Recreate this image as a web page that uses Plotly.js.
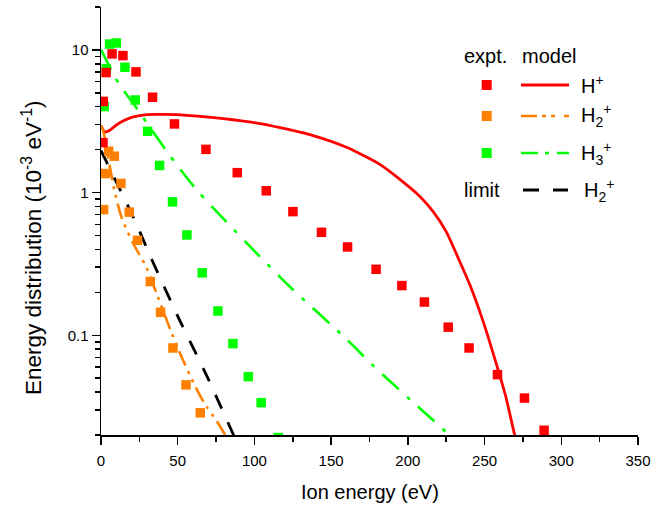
<!DOCTYPE html>
<html>
<head>
<meta charset="utf-8">
<script src="https://cdn.plot.ly/plotly-3.0.1.min.js"></script>
<style>
  html, body { margin: 0; padding: 0; background: #fff; }
  #chart { width: 672px; height: 505px; }
</style>
</head>
<body>
<div id="chart"></div>
<script>
// Measured ion energy distributions (expt.) for H+, H2+, H3+
const hPlusE   = [1.3, 1.5, 3.3, 7.2, 14.3, 22.8, 33.6, 47.9, 68.4, 88.8, 107.7, 125.1, 143.7, 160.7, 179.3, 196.1, 210.8, 226.3, 239.9, 258.4, 276.0, 288.8];
const hPlusF   = [2.24, 4.36, 6.94, 9.38, 9.13, 7.02, 4.66, 3.03, 2.01, 1.38, 1.03, 0.736, 0.527, 0.416, 0.290, 0.223, 0.171, 0.114, 0.0815, 0.0530, 0.0363, 0.0216];

const h2PlusE  = [1.7, 2.8, 5.0, 8.7, 13.0, 18.4, 23.8, 32.1, 38.8, 46.9, 55.4, 64.7];
const h2PlusF  = [0.760, 1.36, 1.95, 1.80, 1.16, 0.730, 0.463, 0.238, 0.145, 0.0815, 0.0449, 0.0286];

const h3PlusE  = [2.1, 3.5, 5.6, 10.0, 15.6, 22.3, 30.4, 38.2, 46.6, 56.0, 66.0, 76.2, 86.0, 96.0, 104.4, 115.5];
const h3PlusF  = [4.01, 7.40, 11.0, 11.2, 7.56, 4.46, 2.69, 1.55, 0.861, 0.505, 0.274, 0.148, 0.0874, 0.0513, 0.0337, 0.0192];

// Model curves
const modelHE   = [0, 2.5, 6, 10.4, 15, 21, 30, 41, 58.2, 79.7, 101.8, 116.8, 138.3, 160.4, 182, 195, 208, 216.5, 225, 232.7, 240.6, 249.1, 258.2, 264, 269.6, 271];
const modelHF   = [2.95, 2.66, 2.75, 3.0, 3.2, 3.39, 3.52, 3.53, 3.47, 3.30, 3.07, 2.85, 2.51, 2.07, 1.57, 1.233, 0.937, 0.736, 0.533, 0.350, 0.223, 0.1247, 0.0603, 0.0366, 0.0201, 0.0183];

const modelH2E  = [0, 1.5, 3, 6, 9.3, 13.5, 21, 29.3, 36.9, 41.2, 45.6, 53.8, 62.5, 68.6, 75.6, 81.0, 81.6];
const modelH2F  = [2.95, 2.7, 2.24, 1.47, 0.97, 0.667, 0.44, 0.304, 0.1875, 0.142, 0.1066, 0.0657, 0.0416, 0.0318, 0.0249, 0.0200, 0.0195];

const modelH3E  = [0, 9.3, 14.7, 21.2, 26.7, 32.1, 43.6, 57.5, 63.6, 79.9, 103.8, 123.3, 160.3, 177.4, 202.6, 225.4, 226];
const modelH3F  = [10.05, 6.40, 5.2, 4.2, 3.45, 2.84, 1.90, 1.21, 1.008, 0.654, 0.354, 0.218, 0.0933, 0.0613, 0.0345, 0.0205, 0.0195];

// Limit curve for H2+
const limitE    = [0, 22.3, 32.1, 50.6, 69.1, 87.5];
const limitF    = [1.97, 0.63, 0.358, 0.132, 0.0516, 0.0188];

// Axis ticks
const xTicks      = [0, 50, 100, 150, 200, 250, 300, 350];
const xMinorTicks = [25, 75, 125, 175, 225, 275, 325];
const yTicks      = [0.1, 1, 10];
const yTickText   = ['0.1', '1', '10'];
const yMinorTicks = [0.02, 0.03, 0.04, 0.05, 0.06, 0.07, 0.08, 0.09,
                     0.2, 0.3, 0.4, 0.5, 0.6, 0.7, 0.8, 0.9,
                     2, 3, 4, 5, 6, 7, 8, 9, 20];

const RED = '#ff0000', ORANGE = '#ff8000', GREEN = '#00ff00', BLACK = '#000000';
const FONT = 'Liberation Sans, Arial, sans-serif';

const DASH_H2 = '16px,6px,3px,6px,3px,6px';
const DASH_H3 = '22px,11px,4px,11px';
const DASH_LIM = '15px,15px';

function pts(x, y, color) {
  return { x, y, type: 'scatter', mode: 'markers', cliponaxis: true,
           marker: { symbol: 'square', size: 9.5, color }, hoverinfo: 'x+y' };
}
function curve(x, y, color, dash, width, smoothing) {
  return { x, y, type: 'scatter', mode: 'lines', cliponaxis: true,
           line: { color, dash, width, shape: 'spline', smoothing: smoothing }, hoverinfo: 'x+y' };
}

const traces = [
  curve(modelHE, modelHF, RED, 'solid', 2.8, 0.6),
  curve(modelH2E, modelH2F, ORANGE, DASH_H2, 2.6, 0.8),
  curve(modelH3E, modelH3F, GREEN, DASH_H3, 2.6, 0.8),
  curve(limitE, limitF, BLACK, DASH_LIM, 2.8, 0.5),
  pts(h2PlusE, h2PlusF, ORANGE),
  pts(h3PlusE, h3PlusF, GREEN),
  pts(hPlusE, hPlusF, RED)
];

// plot area in pixels: left 101, top 7, width 537, height 428
const L = 101, T = 7, W = 537, H = 428;
const px = v => (v - L) / W;
const py = v => (T + H - v) / H;

const shapes = [];
const annotations = [];

function keySquare(cx, cy, color) {
  shapes.push({ type: 'rect', xref: 'paper', yref: 'paper',
    x0: px(cx - 5), x1: px(cx + 5), y0: py(cy + 5), y1: py(cy - 5),
    fillcolor: color, line: { width: 0 } });
}
function keyLine(x0, x1, y, color, dash, width) {
  shapes.push({ type: 'line', xref: 'paper', yref: 'paper',
    x0: px(x0), x1: px(x1), y0: py(y), y1: py(y),
    line: { color, dash, width } });
}
function label(text, x, y, xanchor, size) {
  annotations.push({ text, xref: 'paper', yref: 'paper', x: px(x), y: py(y),
    xanchor, yanchor: 'middle', showarrow: false,
    font: { family: FONT, size: size || 20, color: '#000' } });
}

label('expt.', 485.5, 56, 'center');
label('model', 549, 56, 'center');

keySquare(486.7, 85, RED);
keyLine(521, 569, 85, RED, 'solid', 2.8);
label('H<sup>+</sup>', 579, 85, 'left');

keySquare(486.7, 116, ORANGE);
keyLine(521, 569, 116, ORANGE, '16px,5px,4px,5px,4px,9px', 2.6);
label('H<sub>2</sub><sup>+</sup>', 579, 116, 'left');

keySquare(486.7, 153, GREEN);
keyLine(521, 569, 153, GREEN, '17px,7px,4px,8px', 2.6);
label('H<sub>3</sub><sup>+</sup>', 579, 153, 'left');

label('limit', 482, 190, 'center');
keyLine(523, 568, 190, BLACK, '16px,14px', 2.8);
label('H<sub>2</sub><sup>+</sup>', 582, 190, 'left');

// axis titles
annotations.push({ text: 'Ion energy (eV)', xref: 'paper', yref: 'paper',
  x: px(370), y: py(492), xanchor: 'center', yanchor: 'middle', showarrow: false,
  font: { family: FONT, size: 20, color: '#000' } });
annotations.push({ text: 'Energy distribution (10<sup>-3</sup> eV<sup>-1</sup>)', xref: 'paper', yref: 'paper',
  x: px(32), y: py(248), xanchor: 'center', yanchor: 'middle', textangle: -90, showarrow: false,
  font: { family: FONT, size: 22.5, color: '#000' } });

const axisCommon = {
  showgrid: false, zeroline: false, showline: true, linecolor: '#000', linewidth: 1.5,
  ticks: 'outside', ticklen: 8, tickwidth: 1.5, tickcolor: '#000',
  tickfont: { family: FONT, size: 15, color: '#000' }, mirror: false, fixedrange: true
};

const layout = {
  width: 672, height: 505,
  margin: { l: L, r: 672 - L - W, t: T, b: 505 - T - H },
  paper_bgcolor: '#fff', plot_bgcolor: '#fff',
  showlegend: false,
  xaxis: Object.assign({}, axisCommon, {
    range: [0, 350], tickmode: 'array', tickvals: xTicks, ticklabelstandoff: 3,
    minor: { tickmode: 'array', tickvals: xMinorTicks, ticks: 'outside', ticklen: 5, tickwidth: 1.5, tickcolor: '#000', showgrid: false }
  }),
  yaxis: Object.assign({}, axisCommon, {
    type: 'log', range: [Math.log10(0.02), Math.log10(20)],
    tickmode: 'array', tickvals: yTicks, ticktext: yTickText,
    minor: { tickmode: 'array', tickvals: yMinorTicks, ticks: 'outside', ticklen: 5, tickwidth: 1.5, tickcolor: '#000', showgrid: false }
  }),
  shapes, annotations
};

Plotly.newPlot('chart', traces, layout, { staticPlot: true, displayModeBar: false });
</script>
</body>
</html>
